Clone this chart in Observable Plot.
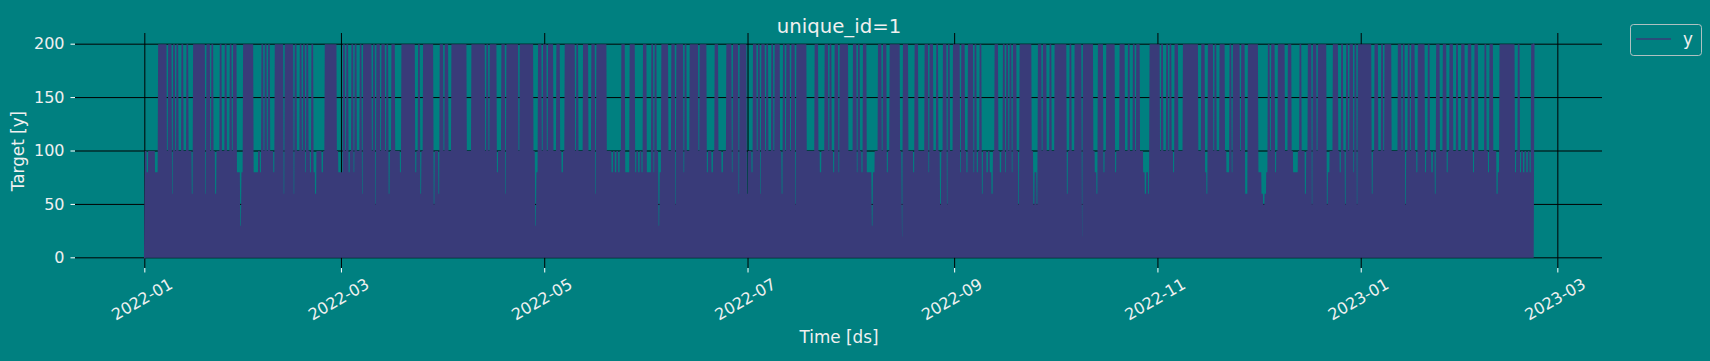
<!DOCTYPE html>
<html>
<head>
<meta charset="utf-8">
<script src="https://cdn.jsdelivr.net/npm/d3@7"></script>
<script src="https://cdn.jsdelivr.net/npm/@observablehq/plot@0.6"></script>
<style>
html, body { margin: 0; padding: 0; background: #008080; }
#wrap { position: relative; width: 1710px; height: 361px; overflow: hidden; background: #008080; }
#legend { position: absolute; left: 1630px; top: 24px; }
</style>
</head>
<body>
<div id="wrap"></div>
<script>
// ---- data ----
// y readings every 6 hours from the series start; codes: 0 -> 0, digit d -> d*10, A -> 100, B -> 200
const seriesStart = "2022-01-01T00:00:00Z";
const stepHours = 6;
const series = `
0A080A0A0A0A08080B0B 0B0B0B0A0B0B060B0A0B 0A0A0B0A0A0B0A0A060B 0B0B0B0B0B0B060B0B0A
0B0A060A0A0B0A0A0B0A 0A0B0A0B0B080803080B 0B0B0B0B0B0808080A08 0B0A0B0A0B0A0A080B0B
0B0B0B060B0B0B0B0B06 0B0A0A0B0A0B080B0A08 0B08060A0A0A080A0B0B 0B0B0B0B0B0A0808080B
0A0B080A0B080B0A0A0B 060B0B0B0B0B0A0B050B 0B0A0B0B0A0B060A0B0B 0A0A0A080B0B0B0B0B0B
0B0B080A0B060A0B0B0B 0B0B0B050A0A060B0B0A 0B0B0A0A0B0B0B0B0B0B 0B0B0B0A0A0A0B0B0B0B
0B0B0B0B0A0B0A0B0B0B 0B080A0A0B0B060B0B0B 0B0B0B0B0A0B0B0B0B0B 0B0B0B0A03080B0B0A0B
0B0A0B0B0B0A0A0B0B0A 080A0B0B0B0B0B0B0A0B 0A0A0A0B0B0B0A0A0B0B 060B0B0B0B0B0B0A0A0A
080A080A080A0B0B0808 080B0B0B080A080A080B 0B0808080B080B0A0308 0B0B0B0B0A0A0B0B050B
0B0B0B080B0A0A0B0B0B 0B0B0A0B0B0B0B080A0A 080A0B0B0A0A080A0A0B 0B0B080B0B0B060B0B0B
0B060A0A080B0B0A0B06 0B0B0A0B0A0A0B0A0B0B 0B0A060B0A0B0B0A0B0B 050B0B0B0B0B0B0A0A0A
0A0A0B0B0A080A0A0B0B 0A0B0A080B0B080B0B0B 0B0B0A0A0A0B0B080B0A 080B0B08080803080A0A
0B0B0A0B0B080A0B0B0B 0B0B0B0A020B0B0B0A0A 0A080B0B0A0A0A0A0B0B 080B0B0A0A0B0A050A0B
0B050B0A0A0B0B0B0B08 0B0B0A080B0B0B080B08 0A0B060A0A080A08060A 0B0B0A080A0B080B0A0B
080B0B0A050B0B0B0B0B 0B0B0A0508050B0B0A0B 0B0A0A0B0A0A0B0B0B0B 0B0B0B060A0B0A0A0B0B
0B0B020B0B0B0B0B0B0A 08060B0B0B080A0B0B0B 0B0B080A0A0B0B0B0A0A 0B0A0A0B0A0B0B0A0A08
0608060B0B0B0B0B0B0A 0B0A0A0B0A0B0A080B0B 0A0A0A0B0B0B0B0B0B0B 0B0B0A0A0B0B08060B0B
0B0A0B0A0A0B0B0B0A08 080B080B0B0B0B0A0B0B 06060B0B0B0B0B0B0808 060506080B0A0B0B080A
0B0B0B0B0A0A0B0B0A08 08080A0B0A0A060A0B0B 050B0B0A0B0B0B0B0B05 080A0A0B0B0B0A080B0A
050B0A0B0B080B050B0B 0B0B0B0B0B0B060A0B0B 0A0A0B0A0B0B0B0B0A0A 0A0A0B0B0A0B050A0B0A
0B0B0A080B0B0B0B080A 0B0A080A060B0B0A0A0B 0B080A0B0B0A0A0B0A0A 0B0B0A0A0B0B0A080B0B
0A0A0A0A0B0A080B0B0A 0A06080B0B0B0B0B0B0B 0B0B080A0B080A080A08 0A080B0B
`;
const codeValue = {"0": 0, "2": 20, "3": 30, "5": 50, "6": 60, "8": 80, "A": 100, "B": 200};
const yTicks = [0, 50, 100, 150, 200];
const xTickLabels = ["2022-01", "2022-03", "2022-05", "2022-07", "2022-09", "2022-11", "2023-01", "2023-03"];
const titleText = "unique_id=1";
const xLabel = "Time [ds]";
const yLabel = "Target [y]";
const legendLabel = "y";

// ---- build table ----
const codes = series.replace(/\s+/g, "").split("");
const t0 = new Date(seriesStart).getTime();
const points = codes.map((c, i) => ({t: new Date(t0 + i * stepHours * 3600e3), v: codeValue[c]}));
const xTickDates = xTickLabels.map(s => new Date(s + "-01T00:00:00Z"));

const lineColor = "#393b79";
const textColor = "#f0f0f0";
const font = "DejaVu Sans";
const xDomain = [new Date("2021-12-11T04:48:00Z"), new Date("2023-03-14T09:36:00Z")];
const yTickStart = new Date(xDomain[0].getTime() - 1.35 * 86400e3);

const chart = Plot.plot({
  width: 1710,
  height: 361,
  marginLeft: 75,
  marginRight: 108,
  marginTop: 33,
  marginBottom: 93,
  style: {background: "#008080", color: textColor, fontFamily: font, overflow: "visible"},
  x: {type: "utc", domain: xDomain, axis: null},
  y: {domain: [-10, 210], axis: null},
  marks: [
    Plot.ruleY(yTicks, {y: d => d, stroke: "black", strokeWidth: 1}),
    Plot.ruleX(xTickDates, {x: d => d, stroke: "black", strokeWidth: 1}),
    Plot.line(points, {x: "t", y: "v", stroke: lineColor, strokeWidth: 1.7, strokeLinejoin: "miter", strokeMiterlimit: 1}),
    Plot.ruleX(xTickDates, {x: d => d, y1: () => -10, y2: () => -14.2, stroke: "white", strokeWidth: 1}),
    Plot.ruleY(yTicks, {y: d => d, x1: () => yTickStart, x2: () => xDomain[0], stroke: "white", strokeWidth: 1}),
    Plot.text(yTicks, {y: d => d, text: d => String(d), frameAnchor: "left", dx: -11, textAnchor: "end", fill: textColor, fontSize: 16, fontFamily: font}),
    Plot.text(xTickDates, {x: d => d, text: (d, i) => xTickLabels[i], frameAnchor: "bottom", dy: 35.5, rotate: -30, textAnchor: "middle", fill: textColor, fontSize: 16, fontFamily: font}),
    Plot.text([xLabel], {text: d => d, frameAnchor: "bottom", dy: 74, textAnchor: "middle", fill: textColor, fontSize: 16.8, fontFamily: font}),
    Plot.text([yLabel], {text: d => d, frameAnchor: "left", dx: -57, rotate: -90, textAnchor: "middle", fill: textColor, fontSize: 16.8, fontFamily: font}),
    Plot.text([titleText], {text: d => d, frameAnchor: "top", dy: -14.5, textAnchor: "middle", fill: textColor, fontSize: 19.7, fontFamily: font})
  ]
});
const wrap = document.getElementById("wrap");
wrap.appendChild(chart);

// legend (top right, outside the axes)
const legend = document.createElement("div");
legend.id = "legend";
legend.innerHTML = `<svg width="72" height="32" xmlns="http://www.w3.org/2000/svg">
  <rect x="0.5" y="0.5" width="71" height="31" rx="3" ry="3" fill="#008080" stroke="rgba(204,204,204,0.85)" stroke-width="1"/>
  <line x1="6" y1="15" x2="41" y2="15" stroke="${lineColor}" stroke-width="1.5"/>
  <text x="53" y="21" font-size="16.8" font-family="${font}" fill="${textColor}">${legendLabel}</text>
</svg>`;
wrap.appendChild(legend);
</script>
</body>
</html>
